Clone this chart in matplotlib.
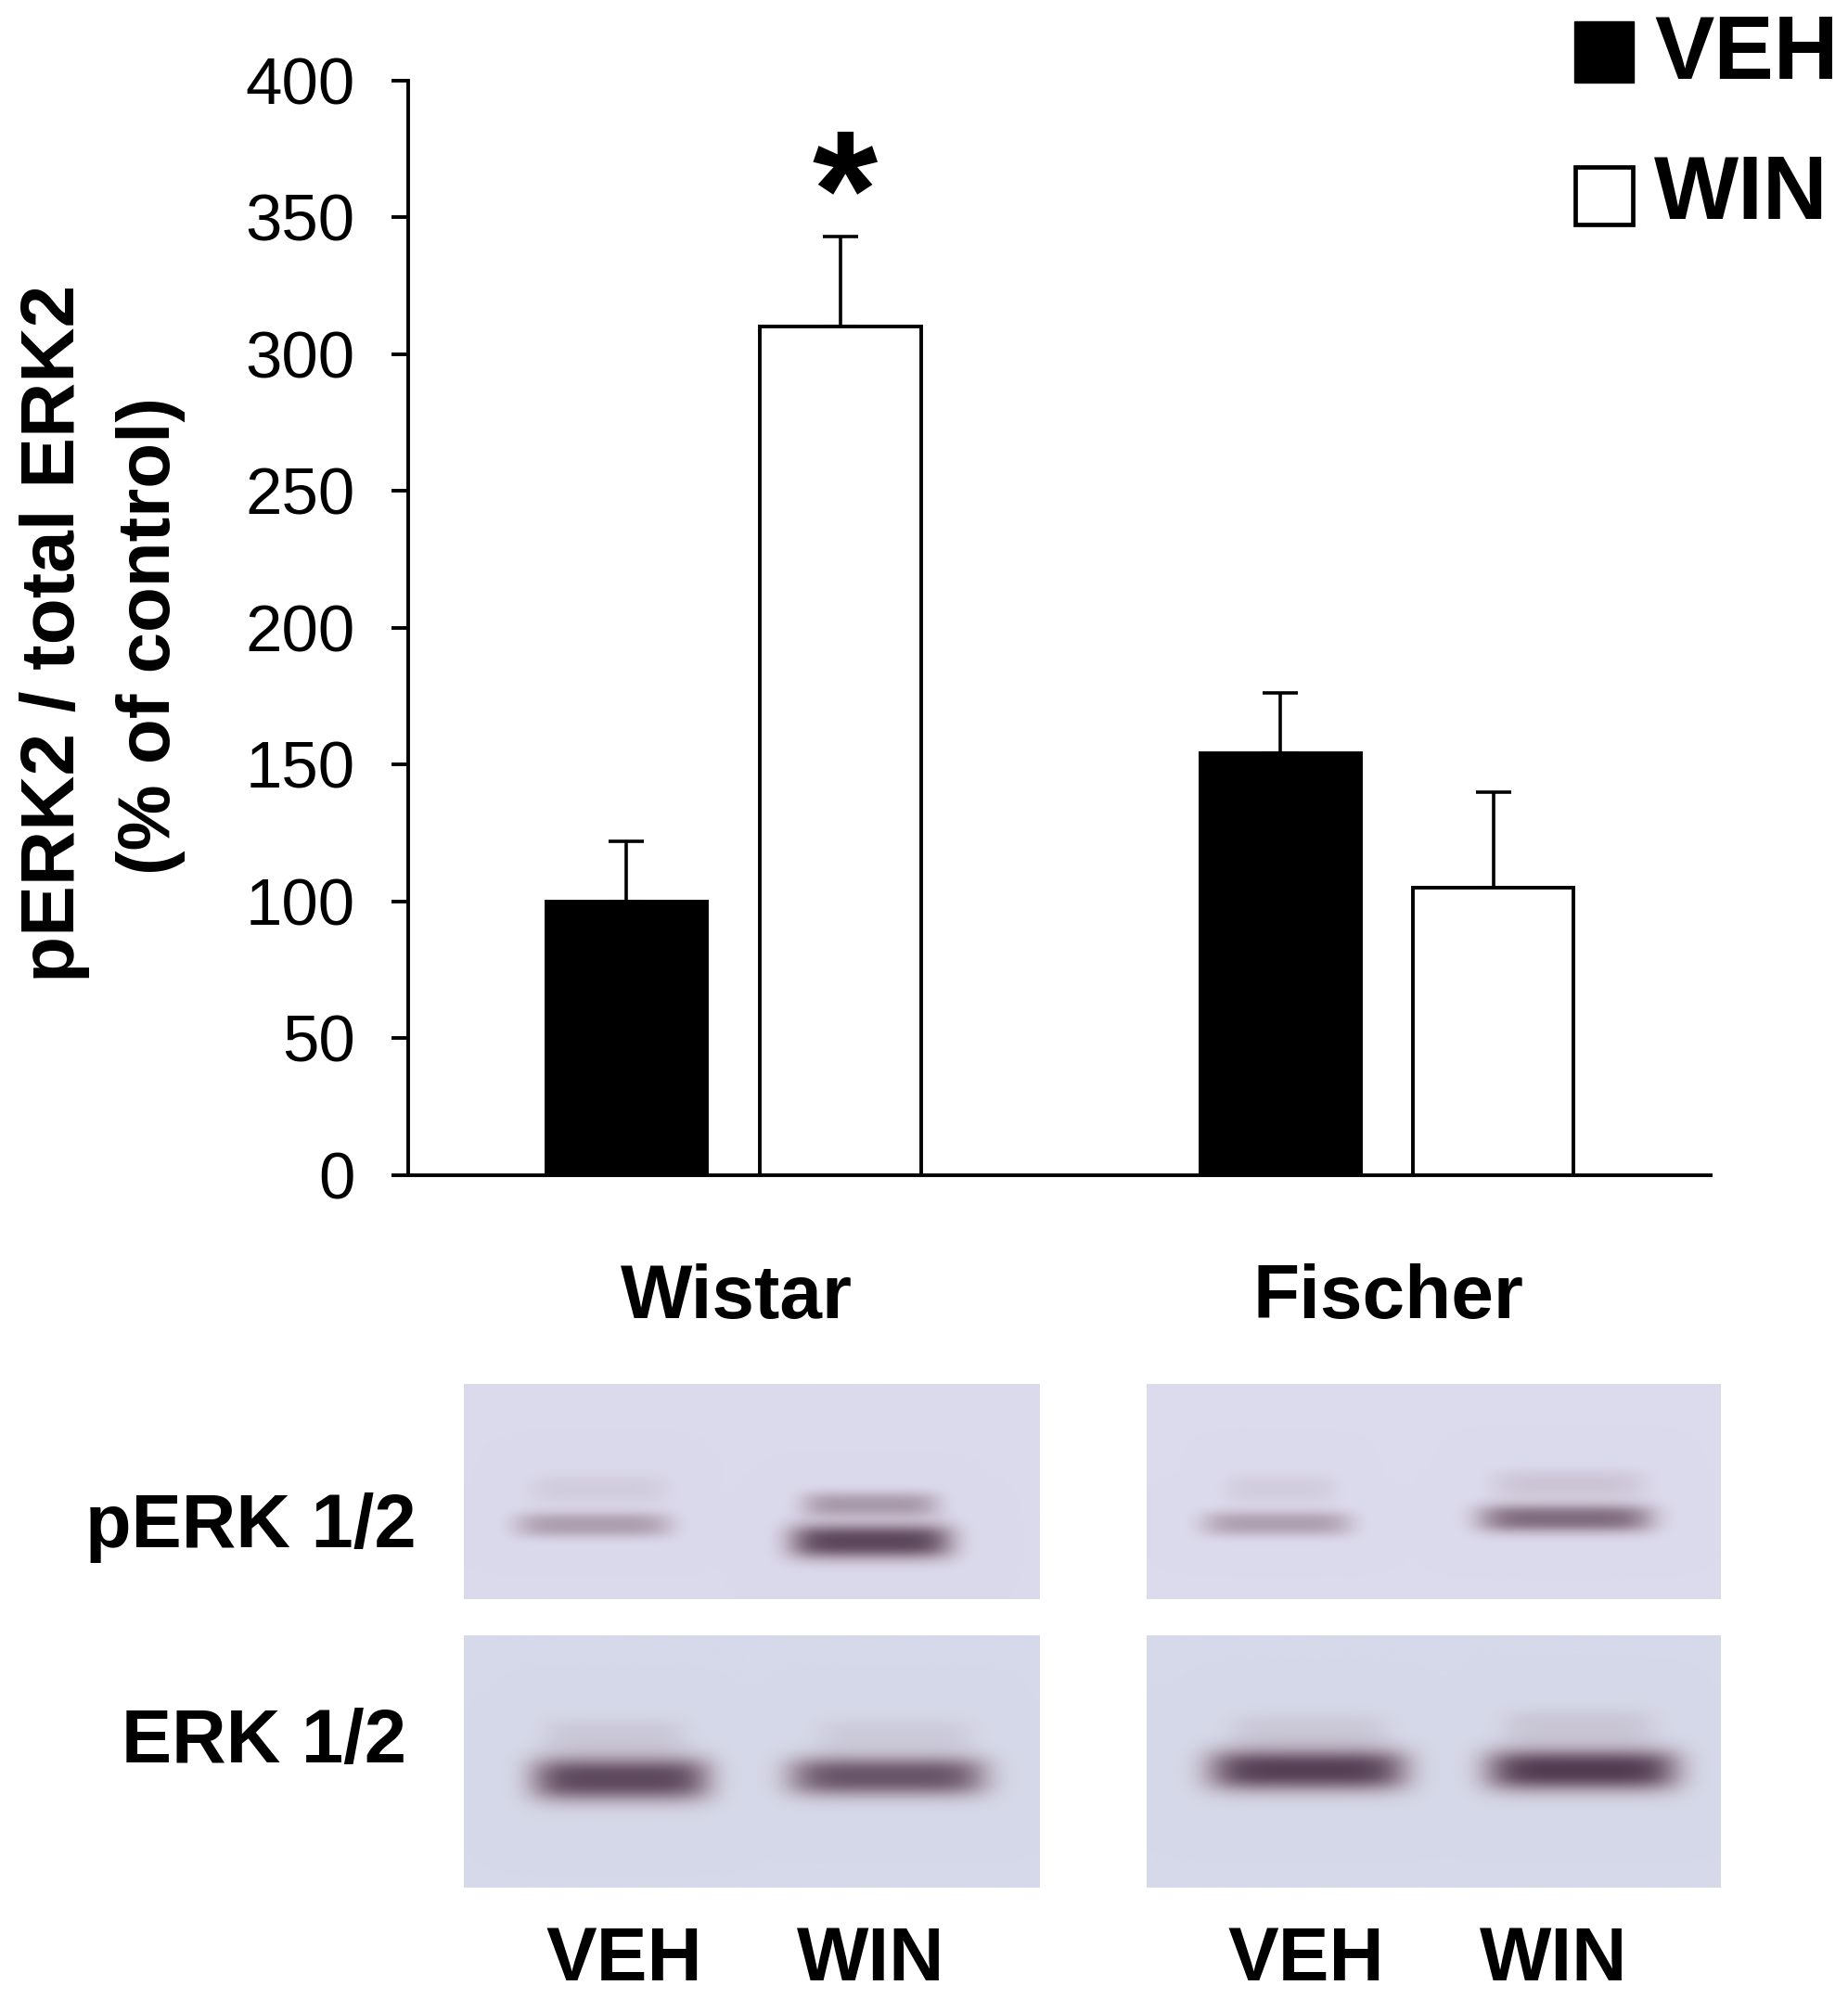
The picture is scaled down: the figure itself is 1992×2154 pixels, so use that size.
import numpy as np
import matplotlib
matplotlib.use("Agg")
import matplotlib.pyplot as plt
from matplotlib.patches import Rectangle

plt.rcParams['font.family'] = ['Liberation Sans', 'DejaVu Sans']

W, H = 1992, 2154
S = W / 1450.0

# Data
positions = [0, 1, 3.054, 4.05]
values = [100, 310, 154, 105]
errors = [22, 33, 22, 35]
face_colors = ['black', 'white', 'black', 'white']
y_ticks = [0, 50, 100, 150, 200, 250, 300, 350, 400]

# Blot bands: x0, x1, y, thickness, strength (overview units)
perk_wistar = [(415, 525, 1169, 12, .13), (403, 528, 1197, 10.5, .47),
               (628, 738, 1181, 10.5, .50), (617, 750, 1210, 15, .95)]
erk_wistar = [(425, 540, 1362, 14, .16), (414, 560, 1396, 19, .94),
              (640, 765, 1362, 14, .14), (616, 777, 1394, 17, .88)]
perk_fischer = [(960, 1050, 1169, 12, .13), (942, 1062, 1196, 10.5, .46),
                (1170, 1292, 1165, 12, .2), (1158, 1299, 1192, 12, .76)]
erk_fischer = [(965, 1090, 1358, 14, .16), (945, 1107, 1389, 18, .98),
               (1178, 1300, 1355, 14, .18), (1163, 1320, 1389, 18, 1.0)]

panels = [((364, 816, 1086, 1255), perk_wistar, (219, 218, 236)),
          ((364, 816, 1283, 1481), erk_wistar, (214, 217, 233)),
          ((900, 1350, 1086, 1255), perk_fischer, (220, 219, 237)),
          ((900, 1350, 1283, 1481), erk_fischer, (214, 217, 233))]

fig = plt.figure(figsize=(W / 100, H / 100), dpi=100, facecolor='white')


def rect_px(x0, x1, y0, y1):
    return [x0 * S / W, 1 - y1 * S / H, (x1 - x0) * S / W, (y1 - y0) * S / H]


def ftext(x, y, s, **kw):
    fig.text(x * S / W, 1 - y * S / H, s, **kw)


# Main chart
ax = fig.add_axes(rect_px(320, 1342, 63, 922))
ax.bar(positions, values, width=0.75, color=face_colors, edgecolor='black',
       linewidth=2.8, zorder=2)
ax.errorbar(positions, values, yerr=[[0] * 4, errors], fmt='none', ecolor='black',
            elinewidth=2.6, capsize=14, capthick=2.6, zorder=1)
ax.set_xlim((320 - 491.5) / 168, (1342 - 491.5) / 168)
ax.set_ylim(0, 400)
ax.set_yticks(y_ticks)
ax.set_xticks([])
ax.tick_params(axis='y', direction='out', length=13, width=2.8, pad=28, labelsize=51)
for side in ('top', 'right'):
    ax.spines[side].set_visible(False)
ax.spines['left'].set_linewidth(2.8)
ax.spines['bottom'].set_linewidth(2.8)
ax.spines['bottom'].set_zorder(3)

ax.text(1.018, 355, '*', fontsize=130, fontweight='bold', ha='center', va='center')

# Y title
ftext(43, 497, 'pERK2 / total ERK2', rotation=90, ha='center', va='center',
      fontsize=59, fontweight='bold')
ftext(118, 499, '(% of control)', rotation=90, ha='center', va='center',
      fontsize=57.5, fontweight='bold')

# Legend
fig.add_artist(Rectangle((1235 * S / W, 1 - 65 * S / H), 47 * S / W, 48 * S / H,
                         transform=fig.transFigure, fc='black', ec='black', lw=1))
fig.add_artist(Rectangle((1236 * S / W, 1 - 176 * S / H), 45 * S / W, 45 * S / H,
                         transform=fig.transFigure, fc='white', ec='black', lw=3.4))
ftext(1298, 62, 'VEH', fontsize=69.5, fontweight='bold', ha='left', va='baseline')
ftext(1298, 172, 'WIN', fontsize=69.5, fontweight='bold', ha='left', va='baseline')

# Strain labels
ftext(578, 1034, 'Wistar', fontsize=59, fontweight='bold', ha='center', va='baseline')
ftext(1089, 1034, 'Fischer', fontsize=59, fontweight='bold', ha='center', va='baseline')
ftext(197, 1214, 'pERK 1/2', fontsize=58.5, fontweight='bold', ha='center', va='baseline')
ftext(207, 1383, 'ERK 1/2', fontsize=58.5, fontweight='bold', ha='center', va='baseline')
for x, s in zip([490, 683, 1025, 1219], ['VEH', 'WIN', 'VEH', 'WIN']):
    ftext(x, 1554, s, fontsize=59, fontweight='bold', ha='center', va='baseline')

# Blots
dark = np.array([82, 60, 82], float)
halo = np.array([155, 122, 132], float)
for (x0, x1, y0, y1), bands, bg in panels:
    xs = np.linspace(x0, x1, int((x1 - x0) * S))
    ys = np.linspace(y0, y1, int((y1 - y0) * S))
    X, Y = np.meshgrid(xs, ys)
    alpha = np.zeros_like(X)
    for bx0, bx1, by, thick, strength in bands:
        cx, hw = (bx0 + bx1) / 2, (bx1 - bx0) / 2
        r = np.abs((X - cx) / hw) ** 6 + np.abs((Y - by) / thick) ** 2.6
        alpha = 1 - (1 - alpha) * (1 - strength * np.exp(-r))
    bgc = np.array(bg, float)
    al = alpha[..., None]
    mix = (1 - al) * bgc + al * (al * dark + (1 - al) * halo)
    a = fig.add_axes(rect_px(x0, x1, y0, y1))
    a.imshow(mix / 255.0, aspect='auto', interpolation='bilinear')
    a.axis('off')

fig.savefig('out.png', dpi=100, facecolor='white')
